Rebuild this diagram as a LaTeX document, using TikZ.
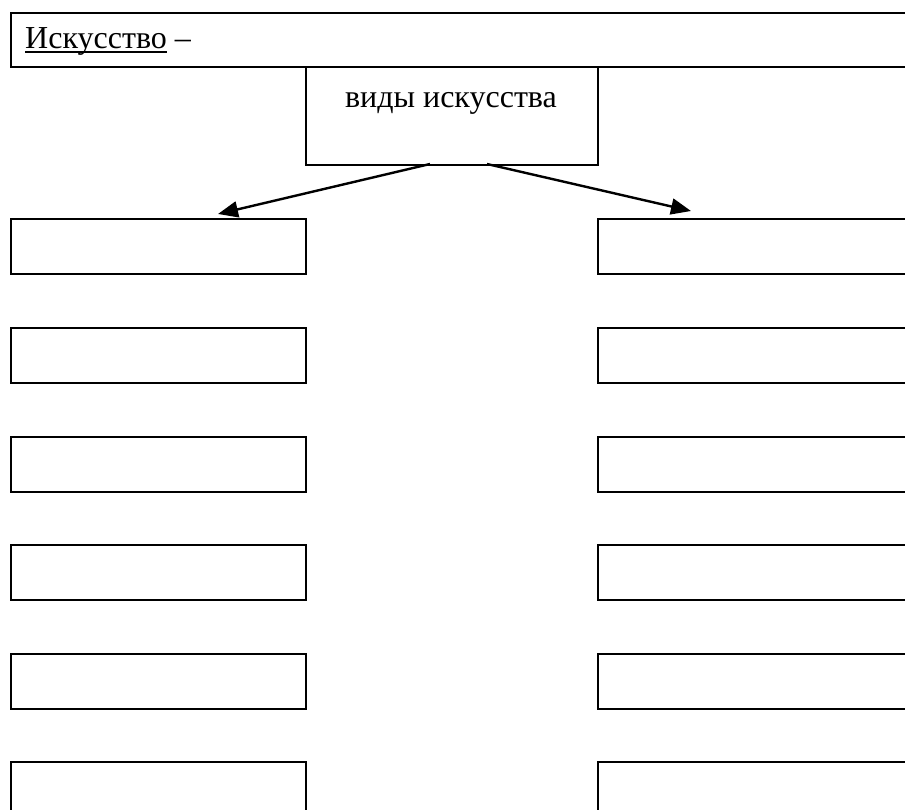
\documentclass[tikz,border=0pt]{standalone}
\usepackage{fontspec}
\setmainfont{Liberation Serif}
\usetikzlibrary{arrows.meta}
\newcommand{\myul}[1]{\leavevmode\setbox0\hbox{#1}\rlap{\raisebox{-4.5pt}{\rule{\wd0}{1.8pt}}}\box0\relax}
\begin{document}
\begin{tikzpicture}[x=1pt,y=-1pt,
  box/.style={draw=black,line width=2.4pt,anchor=north west,inner sep=0pt},
  lbox/.style={box,minimum width=295pt,minimum height=55pt},
  rbox/.style={box,minimum width=330pt,minimum height=55pt},
  txt/.style={inner sep=0pt,anchor=base,font=\fontsize{32}{38}\selectfont},
  arr/.style={line width=2.4pt,-{Triangle[length=20pt,width=16pt]}}]
\useasboundingbox (0,0) rectangle (905,809);
\clip (0,0) rectangle (905,809);
\node[box,minimum width=930pt,minimum height=54pt] (top) at (10,12) {};
\node[txt,anchor=base west] (title) at (25,48) {\myul{Искусство} –};
\node[box,minimum width=292pt,minimum height=98pt] (c) at (305,66) {};
\node[txt] (ctext) at (451,107) {виды искусства};
\foreach \i/\y in {1/218,2/327,3/436,4/544,5/653,6/761}{
  \node[lbox] (L\i) at (10,\y) {};
  \node[rbox] (R\i) at (597,\y) {};
}
\coordinate (s1) at (430,164);
\coordinate (s2) at (487,164);
\coordinate (t1) at (218,214);
\coordinate (t2) at (691,211);
\draw[arr] (s1) -- (t1);
\draw[arr] (s2) -- (t2);
\end{tikzpicture}
\end{document}
